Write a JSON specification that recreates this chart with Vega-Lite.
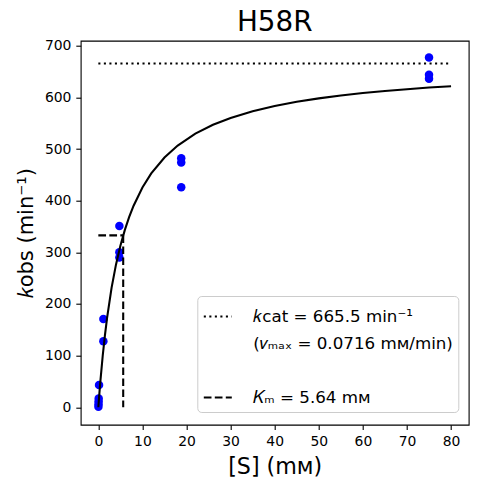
{
  "$schema": "https://vega.github.io/schema/vega-lite/v6.json",
  "width": 388,
  "height": 384,
  "autosize": {"type": "none"},
  "padding": {"left": 80.7, "top": 40.7, "right": 8.3, "bottom": 59.3},
  "title": {
    "text": "H58R",
    "font": "DejaVu Sans",
    "fontSize": 27.8,
    "fontWeight": "normal",
    "color": "black",
    "anchor": "middle",
    "frame": "group",
    "offset": 2
  },
  "config": {
    "font": "DejaVu Sans",
    "view": {"stroke": "black", "strokeWidth": 1.1},
    "axis": {
      "grid": false,
      "domain": false,
      "labelFont": "DejaVu Sans",
      "labelFontSize": 13.9,
      "labelColor": "black",
      "labelFlush": false,
      "labelPadding": 4.9,
      "tickColor": "black",
      "tickSize": 4.9,
      "tickWidth": 1.1,
      "titleFont": "DejaVu Sans",
      "titleFontWeight": "normal",
      "titleColor": "black"
    }
  },
  "datasets": {
    "obs": [
      {"S": 0.02, "kobs": 1},
      {"S": 0.04, "kobs": 6},
      {"S": 0.06, "kobs": 11},
      {"S": 0.08, "kobs": 17},
      {"S": 0.16, "kobs": 43},
      {"S": 1.14, "kobs": 128},
      {"S": 1.14, "kobs": 171},
      {"S": 4.77, "kobs": 351},
      {"S": 4.77, "kobs": 300},
      {"S": 4.77, "kobs": 290},
      {"S": 18.8, "kobs": 482},
      {"S": 18.8, "kobs": 474},
      {"S": 18.8, "kobs": 426},
      {"S": 75, "kobs": 677},
      {"S": 75, "kobs": 644},
      {"S": 75, "kobs": 636}
    ],
    "fit": [
      {"S": 0, "kobs": 0},
      {"S": 0.25, "kobs": 28.25},
      {"S": 0.5, "kobs": 54.19},
      {"S": 1, "kobs": 100.23},
      {"S": 1.5, "kobs": 139.81},
      {"S": 2, "kobs": 174.21},
      {"S": 3, "kobs": 231.08},
      {"S": 4, "kobs": 276.14},
      {"S": 5, "kobs": 312.73},
      {"S": 6, "kobs": 343.04},
      {"S": 7, "kobs": 368.55},
      {"S": 8, "kobs": 390.32},
      {"S": 10, "kobs": 425.51},
      {"S": 12, "kobs": 452.72},
      {"S": 15, "kobs": 483.65},
      {"S": 18, "kobs": 506.73},
      {"S": 22, "kobs": 529.7},
      {"S": 26, "kobs": 546.87},
      {"S": 30, "kobs": 560.19},
      {"S": 35, "kobs": 573.14},
      {"S": 40, "kobs": 583.25},
      {"S": 45, "kobs": 591.38},
      {"S": 50, "kobs": 598.04},
      {"S": 55, "kobs": 603.6},
      {"S": 60, "kobs": 608.32},
      {"S": 65, "kobs": 612.37},
      {"S": 70, "kobs": 615.88},
      {"S": 75, "kobs": 618.96},
      {"S": 80, "kobs": 621.67}
    ],
    "refs": [
      {"series": "𝑘cat = 665.5 min⁻¹", "seg": "a", "i": 0, "S": 0, "kobs": 665.5},
      {"series": "𝑘cat = 665.5 min⁻¹", "seg": "a", "i": 1, "S": 80, "kobs": 665.5},
      {"series": "𝐾ₘ = 5.64 mᴍ", "seg": "b", "i": 0, "S": 0, "kobs": 332.75},
      {"series": "𝐾ₘ = 5.64 mᴍ", "seg": "b", "i": 1, "S": 5.64, "kobs": 332.75},
      {"series": "𝐾ₘ = 5.64 mᴍ", "seg": "c", "i": 0, "S": 5.64, "kobs": 332.75},
      {"series": "𝐾ₘ = 5.64 mᴍ", "seg": "c", "i": 1, "S": 5.64, "kobs": 0}
    ]
  },
  "encoding": {
    "x": {
      "field": "S",
      "type": "quantitative",
      "scale": {"domain": [-4, 84], "nice": false, "zero": false},
      "axis": {
        "values": [0, 10, 20, 30, 40, 50, 60, 70, 80],
        "title": "[S] (mᴍ)",
        "titleFontSize": 22.2,
        "titlePadding": 7
      }
    },
    "y": {
      "field": "kobs",
      "type": "quantitative",
      "scale": {"domain": [-33.7, 709.7], "nice": false, "zero": false},
      "axis": {
        "values": [0, 100, 200, 300, 400, 500, 600, 700],
        "title": "𝑘obs (min⁻¹)",
        "titleFontSize": 21,
        "titlePadding": 8
      }
    }
  },
  "layer": [
    {
      "data": {"name": "obs"},
      "mark": {"type": "circle", "size": 72, "opacity": 1, "color": "#0000ff"}
    },
    {
      "data": {"name": "fit"},
      "mark": {"type": "line", "color": "black", "strokeWidth": 2.08}
    },
    {
      "data": {"name": "refs"},
      "mark": {"type": "line", "color": "black", "strokeWidth": 2.08},
      "encoding": {
        "detail": {"field": "seg"},
        "order": {"field": "i"},
        "strokeDash": {
          "field": "series",
          "type": "nominal",
          "scale": {
            "domain": ["𝑘cat = 665.5 min⁻¹", "(𝑣ₘₐₓ = 0.0716 mᴍ/min)", " ", "𝐾ₘ = 5.64 mᴍ"],
            "range": [[2.08, 3.44], [0, 1000], [0, 1000], [7.7, 3.3]]
          },
          "legend": {
            "title": null,
            "orient": "none",
            "legendX": 116.6,
            "legendY": 255.3,
            "symbolType": "stroke",
            "symbolSize": 784,
            "symbolStrokeColor": "black",
            "symbolStrokeWidth": 2.08,
            "labelFont": "DejaVu Sans",
            "labelFontSize": 16.7,
            "labelColor": "black",
            "labelOffset": 20,
            "labelLimit": 400,
            "rowPadding": 2,
            "padding": 5,
            "strokeColor": "#cccccc",
            "fillColor": "rgba(255,255,255,0.8)",
            "cornerRadius": 4
          }
        }
      }
    }
  ]
}
